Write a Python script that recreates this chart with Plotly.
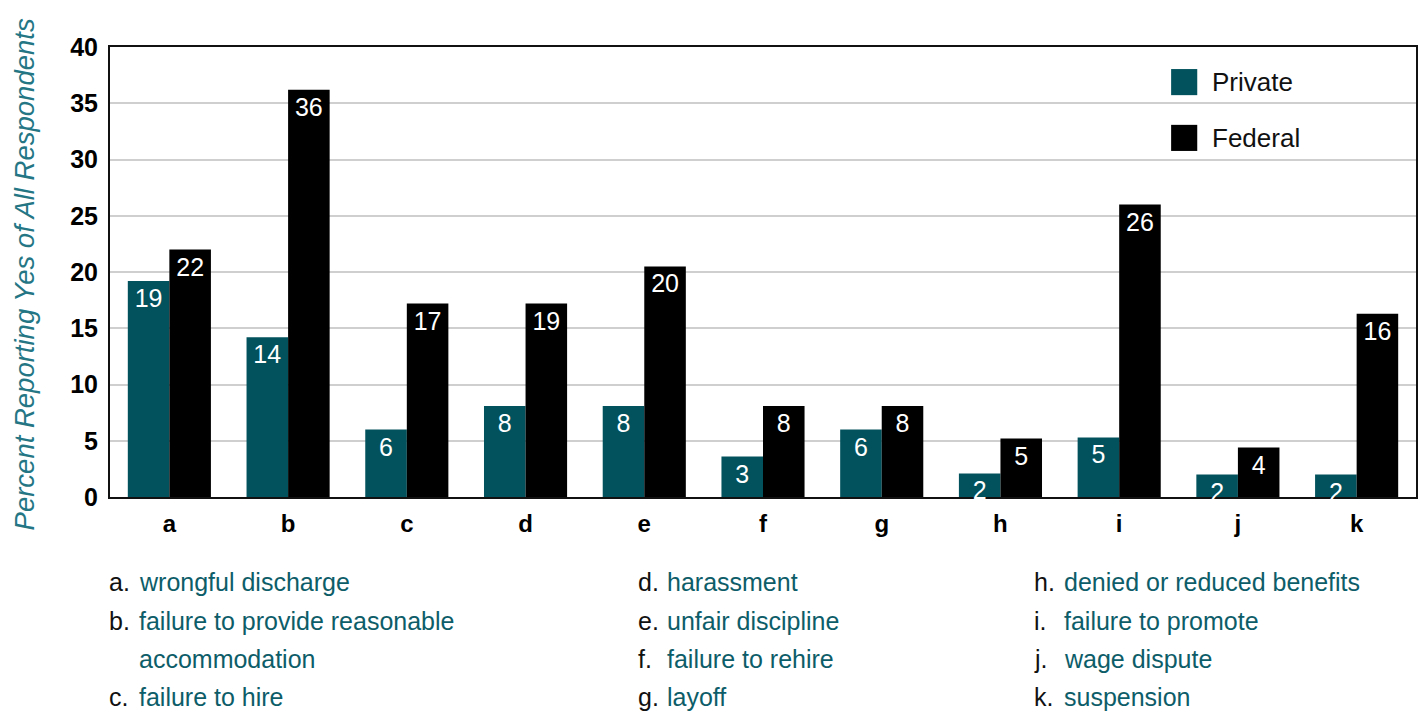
import plotly.graph_objects as go

# ---------------- data ----------------
categories = ["a", "b", "c", "d", "e", "f", "g", "h", "i", "j", "k"]
series_names = ["Private", "Federal"]
private_values = [19.2, 14.2, 6.0, 8.1, 8.1, 3.6, 6.0, 2.1, 5.3, 2.0, 2.0]
federal_values = [22.0, 36.2, 17.2, 17.2, 20.5, 8.1, 8.1, 5.2, 26.0, 4.4, 16.3]
private_labels = ["19", "14", "6", "8", "8", "3", "6", "2", "5", "2", "2"]
federal_labels = ["22", "36", "17", "19", "20", "8", "8", "5", "26", "4", "16"]
y_ticks = [0, 5, 10, 15, 20, 25, 30, 35, 40]
y_title = "Percent Reporting Yes of All Respondents"
descriptions = [
    "wrongful discharge",
    "failure to provide reasonable\naccommodation",
    "failure to hire",
    "harassment",
    "unfair discipline",
    "failure to rehire",
    "layoff",
    "denied or reduced benefits",
    "failure to promote",
    "wage dispute",
    "suspension",
]
key_columns = [["a", "b", "c"], ["d", "e", "f", "g"], ["h", "i", "j", "k"]]

# ---------------- style ----------------
FONT = "Liberation Sans, Arial, Helvetica, sans-serif"
TEAL = "#02525d"
DESC_TEAL = "#0d5d69"
TITLE_TEAL = "#247685"
colors = [TEAL, "#000000"]

fig = go.Figure()
for name, vals, labs, col in zip(series_names, [private_values, federal_values],
                                 [private_labels, federal_labels], colors):
    fig.add_trace(go.Bar(
        x=categories, y=vals, name=name, text=labs,
        textposition="inside", insidetextanchor="end", textangle=0,
        constraintext="none", cliponaxis=False,
        textfont=dict(family=FONT, size=25, color="white"),
        marker=dict(color=col, line=dict(width=0)),
        showlegend=False, hoverinfo="x+y+name",
    ))

# custom legend (large square swatches)
leg_y = [0.922, 0.798]
for name, col, yc in zip(series_names, colors, leg_y):
    fig.add_shape(type="rect", xref="paper", yref="paper",
                  x0=0.8125, x1=0.8325, y0=yc - 0.029, y1=yc + 0.029,
                  fillcolor=col, line=dict(width=0))
    fig.add_annotation(xref="paper", yref="paper", x=0.8425, y=yc,
                       text=name, showarrow=False, xanchor="left", yanchor="middle",
                       font=dict(family=FONT, size=26, color="#111111"))

# y-axis title
fig.add_annotation(xref="paper", yref="paper", x=-0.0657, y=0.495,
                   text="<i>" + y_title + "</i>", showarrow=False, textangle=-90,
                   xanchor="center", yanchor="middle",
                   font=dict(family=FONT, size=27.5, color=TITLE_TEAL))

# key below the chart
col_x = [(-0.0023, 0.0206), (0.4027, 0.4251), (0.7057, 0.7286)]
row_y = [-0.189, -0.276, -0.360, -0.444]
for (lx, dx), letters in zip(col_x, key_columns):
    row = 0
    for letter in letters:
        idx = categories.index(letter)
        lines = descriptions[idx].split("\n")
        fig.add_annotation(xref="paper", yref="paper", x=lx, y=row_y[row],
                           text=letter + ".", showarrow=False, xanchor="left",
                           yanchor="middle", font=dict(family=FONT, size=25, color="#111111"))
        for line in lines:
            fig.add_annotation(xref="paper", yref="paper", x=dx, y=row_y[row],
                               text=line, showarrow=False, xanchor="left",
                               yanchor="middle", font=dict(family=FONT, size=25, color=DESC_TEAL))
            row += 1

fig.update_layout(
    width=1424, height=713,
    margin=dict(l=110, r=6, t=47, b=216),
    paper_bgcolor="white", plot_bgcolor="white",
    barmode="group", bargap=0.3, bargroupgap=0,
    font=dict(family=FONT, color="#000000"),
)
fig.update_xaxes(
    type="category", range=[-0.5, 10.5],
    showline=True, linecolor="#111111", linewidth=2, mirror=True,
    layer="below traces",
    ticks="outside", ticklen=4, tickcolor="rgba(0,0,0,0)",
    tickfont=dict(family=FONT, size=24, color="#000000", weight="bold"),
    showgrid=False,
)
fig.update_yaxes(
    range=[0, 40], tickvals=y_ticks,
    showline=True, linecolor="#111111", linewidth=2, mirror=True,
    layer="below traces",
    showgrid=True, gridcolor="#cfcfcf", gridwidth=2,
    zeroline=False,
    ticks="outside", ticklen=5, tickcolor="rgba(0,0,0,0)",
    tickfont=dict(family=FONT, size=25, color="#000000", weight="bold"),
)

fig.write_html("out.html", include_plotlyjs=True,
               config={"displayModeBar": False},
               post_script="document.body.style.margin='0';document.body.style.overflow='hidden';")
